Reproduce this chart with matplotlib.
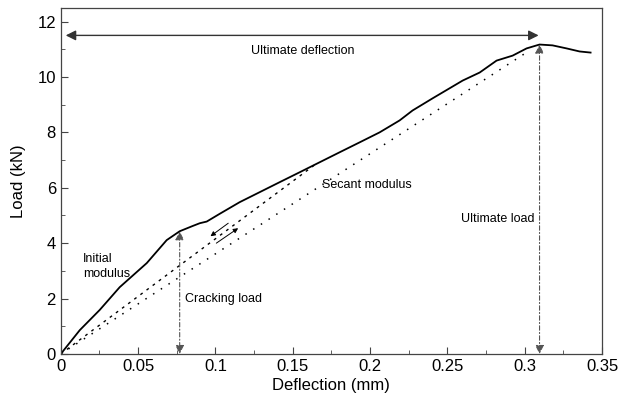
import matplotlib
matplotlib.use('Agg')
import matplotlib.pyplot as plt
from matplotlib.ticker import MultipleLocator

plt.rcParams['font.family'] = ['Liberation Sans', 'DejaVu Sans']

# curva carga-deflexion
defl = [0, 0.0123, 0.0252, 0.0381, 0.0556, 0.0685, 0.0769, 0.0853, 0.0899, 0.0944,
        0.1028, 0.1157, 0.1286, 0.1415, 0.1545, 0.1674, 0.1803, 0.1933, 0.2062,
        0.2191, 0.2275, 0.2405, 0.2599, 0.2709, 0.2818, 0.2922, 0.3012, 0.3096,
        0.3180, 0.3271, 0.3355, 0.3426]
load = [0, 0.86, 1.59, 2.41, 3.28, 4.11, 4.43, 4.62, 4.72, 4.78,
        5.06, 5.48, 5.84, 6.20, 6.56, 6.92, 7.28, 7.64, 8.00,
        8.43, 8.79, 9.23, 9.87, 10.16, 10.59, 10.77, 11.03, 11.17,
        11.14, 11.03, 10.92, 10.88]

# rectas de modulo
sec_x = [0, 0.303]
sec_y = [0, 10.95]
ini_x = [0, 0.1655]
ini_y = [0, 6.88]

# puntos caracteristicos
crack_x, crack_y = 0.0769, 4.43
ult_x, ult_y = 0.3096, 11.17
arrow_y = 11.5

fig = plt.figure(figsize=(6.2, 4.05), dpi=100)
ax = fig.add_axes([0.098, 0.126, 0.873, 0.855])

ax.plot(defl, load, color='black', lw=1.3)
ax.plot(sec_x, sec_y, color='black', lw=1.1, linestyle=(0, (1, 5)))
ax.plot(ini_x, ini_y, color='black', lw=1.0, linestyle=(0, (2, 3.5)))

head = dict(arrowstyle='<|-|>', color='#555555', lw=0.8, mutation_scale=13,
            shrinkA=0, shrinkB=0, linestyle=(0, (4, 2, 1, 2)))
ax.annotate('', xy=(crack_x, 0), xytext=(crack_x, crack_y), arrowprops=head)
ax.annotate('', xy=(ult_x, 0), xytext=(ult_x, ult_y), arrowprops=head)
ax.annotate('', xy=(0.0032, arrow_y), xytext=(0.309, arrow_y),
            arrowprops=dict(arrowstyle='<|-|>', color='#333333', lw=1.0,
                            mutation_scale=15, shrinkA=0, shrinkB=0))

small = dict(arrowstyle='-|>', color='black', lw=0.7, mutation_scale=7,
             shrinkA=0, shrinkB=0)
ax.annotate('', xy=(0.0968, 4.25), xytext=(0.1083, 4.72), arrowprops=small)
ax.annotate('', xy=(0.1147, 4.54), xytext=(0.1006, 4.0), arrowprops=small)

fs = 9
ax.text(0.1564, 10.95, 'Ultimate deflection', ha='center', va='center', fontsize=fs)
ax.text(0.1687, 6.09, 'Secant modulus', ha='left', va='center', fontsize=fs)
ax.text(0.0142, 3.17, 'Initial\nmodulus', ha='left', va='center', fontsize=fs,
        linespacing=1.3)
ax.text(0.0802, 1.98, 'Cracking load', ha='left', va='center', fontsize=fs)
ax.text(0.3064, 4.86, 'Ultimate load', ha='right', va='center', fontsize=fs)

ax.set_xlim(0, 0.35)
ax.set_ylim(0, 12.5)
ax.xaxis.set_minor_locator(MultipleLocator(0.025))
ax.yaxis.set_major_locator(MultipleLocator(2))
ax.yaxis.set_minor_locator(MultipleLocator(1))
ax.set_xticks([0, 0.05, 0.1, 0.15, 0.2, 0.25, 0.3, 0.35])
ax.set_xticklabels(['0', '0.05', '0.1', '0.15', '0.2', '0.25', '0.3', '0.35'])
ax.tick_params(which='both', direction='in', labelsize=12, color='#444444')
ax.tick_params(which='major', length=5, width=0.8)
ax.tick_params(which='minor', length=3, width=0.6)
for s in ax.spines.values():
    s.set_color('#444444')
    s.set_linewidth(0.9)

ax.set_xlabel('Deflection (mm)', fontsize=12, labelpad=3)
ax.set_ylabel('Load (kN)', fontsize=12, labelpad=8)

fig.savefig('out.png', dpi=100)
